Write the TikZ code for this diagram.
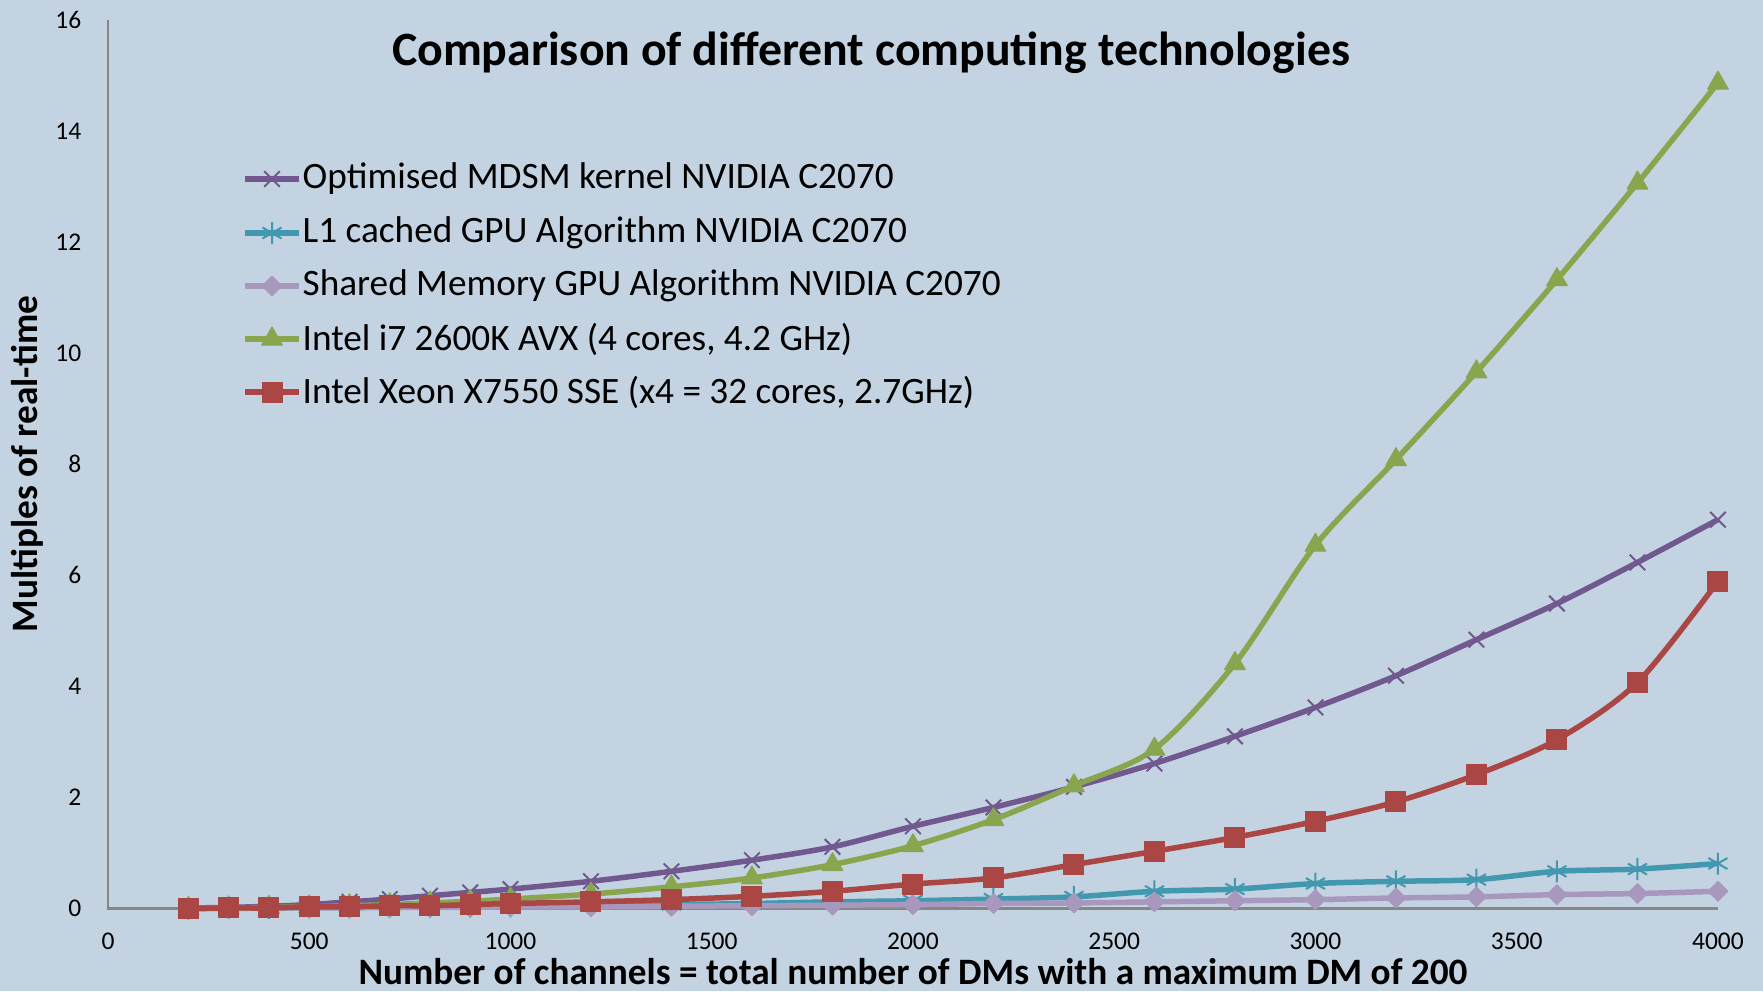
\documentclass[tikz,border=0pt]{standalone}
\usepackage{fontspec}
\setmainfont{Carlito}
\usetikzlibrary{plotmarks}
\definecolor{chartbg}{RGB}{195,211,225}
\definecolor{axisgray}{RGB}{134,134,134}
\definecolor{mdsmcol}{RGB}{113,88,143}
\definecolor{lonecol}{RGB}{65,152,175}
\definecolor{sharedcol}{RGB}{168,152,190}
\definecolor{icorecol}{RGB}{137,165,78}
\definecolor{xeoncol}{RGB}{170,70,67}
\begin{document}
\begin{tikzpicture}[x=0.1mm, y=0.1mm,
    series/.style={line width=0.55mm, line join=round},
    mdsm/.style={series, draw=mdsmcol, mark=x, mark size=1.1mm,
      mark options={line width=0.2mm}},
    lone/.style={series, draw=lonecol, mark=asterisk, mark size=1.1mm,
      mark options={line width=0.2mm}},
    shared/.style={series, draw=sharedcol, mark=square*, mark size=0.7mm,
      mark options={fill=sharedcol, line width=0.1mm, rotate=45}},
    icore/.style={series, draw=icorecol, mark=triangle*, mark size=1.2mm,
      mark options={fill=icorecol, line width=0.1mm}},
    xeon/.style={series, draw=xeoncol, mark=square*, mark size=1mm,
      mark options={fill=xeoncol, line width=0.1mm}},
    ticklbl/.style={font=\fontsize{7.25}{8}\selectfont, inner sep=0pt},
    legendlbl/.style={font=\fontsize{10.6}{12}\selectfont, anchor=west, inner sep=0pt},
    axislbl/.style={font=\fontsize{10.6}{12}\selectfont\bfseries, inner sep=0pt}]
  \fill[chartbg] (0,0) rectangle (1763,991);
  \useasboundingbox (0,0) rectangle (1763,991);

  \node[font=\fontsize{13.6}{16}\selectfont\bfseries, inner sep=0pt] (title) at (871,938)
    {Comparison of different computing technologies};
  \node[axislbl, rotate=90] (ylabel) at (27,527) {Multiples of real-time};
  \node[axislbl] (xlabel) at (913,19)
    {Number of channels = total number of DMs with a maximum DM of 200};

  % data area: channels on x, multiples of real-time on y
  \begin{scope}[shift={(10.8mm,8.25mm)}, x=0.04025mm, y=5.555mm]
    \draw[axisgray, line width=0.25mm] (0,16) -- (0,0) -- (4000,0);
    \foreach \xv in {0,500,...,4000}
      \node[ticklbl, yshift=-3.3mm] (xt\xv) at (\xv,0) {\xv};
    \foreach \yv in {0,2,...,16}
      \node[ticklbl, anchor=east, xshift=-2.6mm] (yt\yv) at (0,\yv) {\yv};

    \draw[mdsm] plot[smooth] coordinates {(200,0.01) (300,0.02) (400,0.04) (500,0.07)
      (600,0.12) (700,0.17) (800,0.23) (900,0.29) (1000,0.35) (1200,0.49) (1400,0.67)
      (1600,0.87) (1800,1.11) (2000,1.48) (2200,1.82) (2400,2.19) (2600,2.61)
      (2800,3.10) (3000,3.62) (3200,4.19) (3400,4.84) (3600,5.49) (3800,6.23) (4000,7.0)};
    \draw[lone] plot[smooth] coordinates {(200,0.0) (300,0.01) (400,0.01) (500,0.02)
      (600,0.02) (700,0.03) (800,0.03) (900,0.04) (1000,0.04) (1200,0.05) (1400,0.07)
      (1600,0.09) (1800,0.12) (2000,0.14) (2200,0.17) (2400,0.21) (2600,0.31)
      (2800,0.35) (3000,0.45) (3200,0.49) (3400,0.52) (3600,0.67) (3800,0.71) (4000,0.81)};
    \draw[shared] plot[smooth] coordinates {(200,0.0) (300,0.0) (400,0.01) (500,0.01)
      (600,0.01) (700,0.02) (800,0.02) (900,0.02) (1000,0.03) (1200,0.03) (1400,0.04)
      (1600,0.05) (1800,0.06) (2000,0.07) (2200,0.09) (2400,0.10) (2600,0.12)
      (2800,0.14) (3000,0.16) (3200,0.19) (3400,0.21) (3600,0.25) (3800,0.27) (4000,0.31)};
    \draw[icore] plot[smooth] coordinates {(200,0.0) (300,0.01) (400,0.02) (500,0.03)
      (600,0.05) (700,0.07) (800,0.10) (900,0.13) (1000,0.17) (1200,0.26) (1400,0.39)
      (1600,0.55) (1800,0.79) (2000,1.13) (2200,1.60) (2400,2.21) (2600,2.87)
      (2800,4.41) (3000,6.54) (3200,8.08) (3400,9.66) (3600,11.32) (3800,13.06) (4000,14.86)};
    \draw[xeon] plot[smooth] coordinates {(200,0.0) (300,0.01) (400,0.01) (500,0.03)
      (600,0.03) (700,0.05) (800,0.05) (900,0.07) (1000,0.09) (1200,0.12) (1400,0.16)
      (1600,0.22) (1800,0.31) (2000,0.44) (2200,0.55) (2400,0.79) (2600,1.03)
      (2800,1.28) (3000,1.57) (3200,1.92) (3400,2.41) (3600,3.04) (3800,4.07) (4000,5.89)};
  \end{scope}

  % legend
  \foreach \sty/\yy/\txt in {mdsm/812/{Optimised MDSM kernel NVIDIA C2070},
      lone/758/{L1 cached GPU Algorithm NVIDIA C2070},
      shared/705/{Shared Memory GPU Algorithm NVIDIA C2070},
      icore/652/{Intel i7 2600K AVX (4 cores, 4.2 GHz)},
      xeon/599/{Intel Xeon X7550 SSE (x4 = 32 cores, 2.7GHz)}} {
    \draw[\sty] plot[mark indices={2}] coordinates {(245,\yy) (272,\yy) (299,\yy)};
    \node[legendlbl] (leg\sty) at (302,\yy) {\txt};
  }
\end{tikzpicture}
\end{document}
